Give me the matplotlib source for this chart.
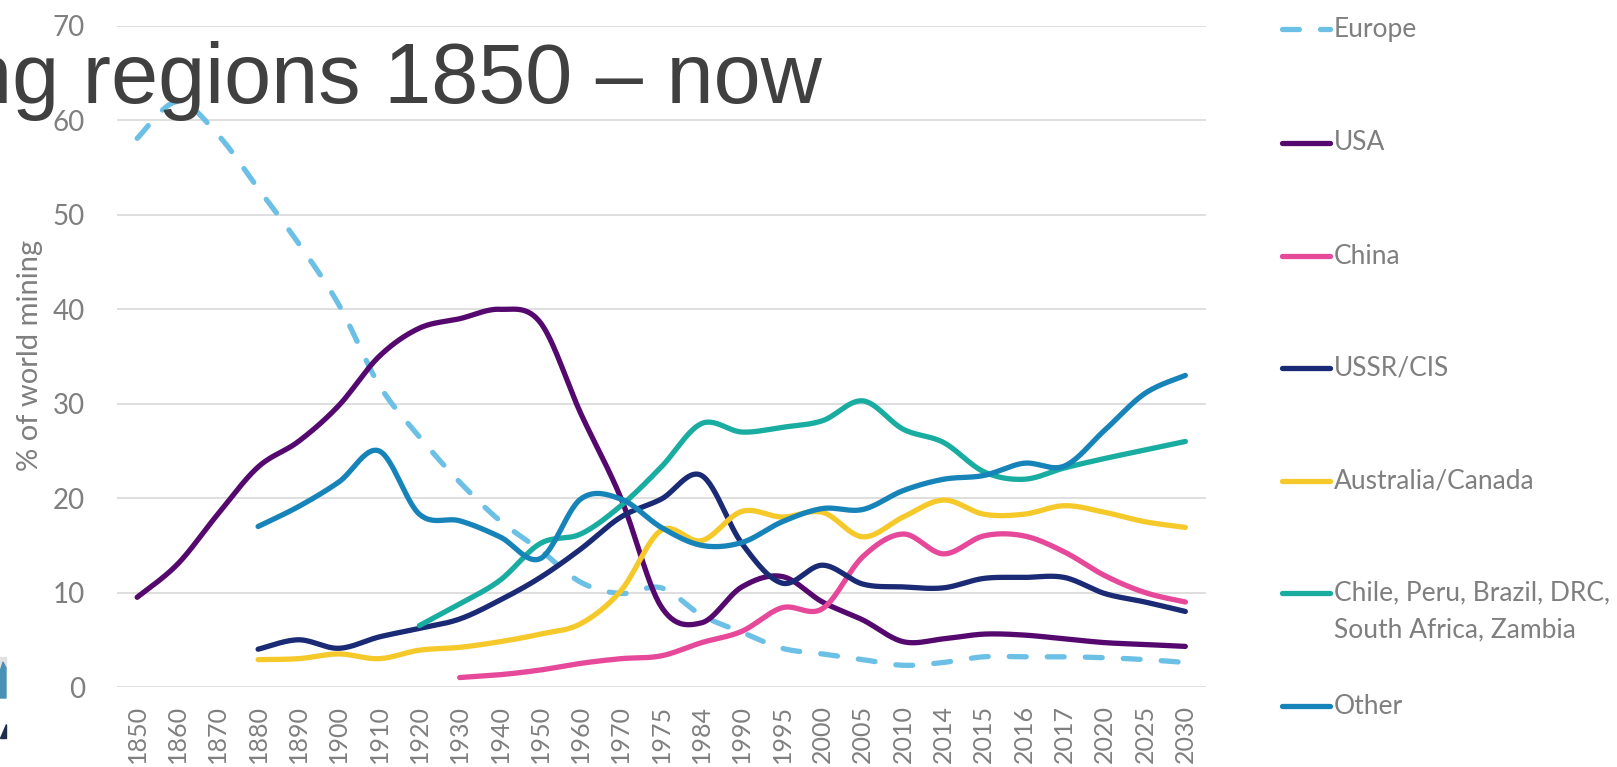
import numpy as np
import matplotlib.pyplot as plt
from matplotlib.lines import Line2D
from matplotlib.patches import Polygon

plt.rcParams['font.family'] = ['Lato', 'DejaVu Sans']

nan = np.nan
years = ["1850", "1860", "1870", "1880", "1890", "1900", "1910", "1920", "1930",
         "1940", "1950", "1960", "1970", "1975", "1984", "1990", "1995", "2000",
         "2005", "2010", "2014", "2015", "2016", "2017", "2020", "2025", "2030"]

europe = [58.1, 62.0, 58.5, 52.8, 47.0, 40.5, 32.0, 26.5, 21.7, 17.6, 14.5, 11.1, 9.9,
          10.5, 7.6, 5.8, 4.1, 3.5, 2.9, 2.3, 2.6, 3.2, 3.2, 3.2, 3.1, 2.9, 2.6]
usa = [9.5, 13.0, 18.3, 23.3, 26.0, 29.8, 35.0, 38.0, 39.0, 40.0, 38.6, 29.0, 20.0,
       8.5, 6.8, 10.6, 11.7, 9.0, 7.1, 4.8, 5.1, 5.6, 5.5, 5.1, 4.7, 4.5, 4.3]
china = [nan] * 8 + [1.0, 1.3, 1.8, 2.5, 3.0, 3.3, 4.7, 5.9, 8.4, 8.3, 13.8, 16.2,
                     14.1, 16.0, 16.0, 14.3, 11.8, 10.0, 9.0]
ussr = [nan] * 3 + [4.0, 5.0, 4.1, 5.3, 6.2, 7.2, 9.2, 11.6, 14.6, 18.0, 19.9, 22.4,
                    15.2, 11.0, 12.9, 10.9, 10.6, 10.5, 11.5, 11.6, 11.6, 9.9, 9.0, 8.0]
aus_can = [nan] * 3 + [2.9, 3.0, 3.5, 3.0, 3.9, 4.2, 4.8, 5.6, 6.7, 10.2, 16.6, 15.5,
                       18.6, 18.0, 18.5, 15.9, 18.0, 19.8, 18.3, 18.3, 19.2, 18.5, 17.5, 16.9]
chile_etc = [nan] * 7 + [6.5, 8.8, 11.3, 15.2, 16.2, 19.2, 23.3, 27.9, 27.0, 27.5, 28.2,
                         30.3, 27.3, 25.9, 22.8, 22.0, 23.2, 24.2, 25.1, 26.0]
other = [nan] * 3 + [17.0, 19.1, 21.7, 25.0, 18.3, 17.6, 15.9, 13.6, 19.9, 19.9, 16.9,
                     15.0, 15.3, 17.5, 18.9, 18.8, 20.8, 22.0, 22.4, 23.7, 23.4, 27.2, 31.1, 33.0]

series = [
    ("Europe", europe, "#6cc0e5"),
    ("USA", usa, "#55096f"),
    ("China", china, "#e6489a"),
    ("USSR/CIS", ussr, "#1b2a74"),
    ("Australia/Canada", aus_can, "#f6c92b"),
    ("Chile, Peru, Brazil, DRC,\nSouth Africa, Zambia", chile_etc, "#19aca0"),
    ("Other", other, "#1683b9"),
]


def smooth(vals, n=30):
    # excel-like smoothed line: bezier through each point
    y = np.asarray(vals, dtype=float)
    x = np.arange(len(y), dtype=float)
    ok = ~np.isnan(y)
    pts = np.column_stack([x[ok], y[ok]])
    m = len(pts)
    t = np.linspace(0, 1, n)[:, None]
    out = []
    for i in range(m - 1):
        p0 = pts[max(i - 1, 0)]
        p1 = pts[i]
        p2 = pts[i + 1]
        p3 = pts[min(i + 2, m - 1)]
        c1 = p1 + (p2 - p0) / 6
        c2 = p2 - (p3 - p1) / 6
        seg = (1 - t) ** 3 * p1 + 3 * (1 - t) ** 2 * t * c1 + 3 * (1 - t) * t ** 2 * c2 + t ** 3 * p2
        out.append(seg if i == 0 else seg[1:])
    out = np.vstack(out)
    return out[:, 0], out[:, 1]


W, H = 1617, 767
fig = plt.figure(figsize=(W / 100, H / 100), dpi=100)
ax = fig.add_axes([117 / W, 1 - 687 / H, (1205.5 - 117) / W, (687 - 26) / H])

lw = 3.8
dash = (0, (3.2, 4.0))
for name, vals, col in series:
    xs, ys = smooth(vals)
    if name == "Europe":
        ax.plot(xs, ys, color=col, lw=lw, linestyle=dash,
                dash_capstyle='round', solid_capstyle='round')
    else:
        ax.plot(xs, ys, color=col, lw=lw, solid_capstyle='round')

ax.set_xlim(-0.5, len(years) - 0.5)
ax.set_ylim(0, 70)
ax.set_xticks(range(len(years)))
ax.set_xticklabels(years, rotation=90)
ax.set_yticks(range(0, 71, 10))
ax.tick_params(length=0, labelsize=20, colors='#7f7f7f')
ax.tick_params(axis='x', labelsize=18, pad=13)
ax.tick_params(axis='y', pad=23)
ax.grid(axis='y', color='#d9d9d9', lw=1.2)
ax.set_axisbelow(True)
for s in ax.spines.values():
    s.set_visible(False)

fig.text(30 / W, 1 - 355 / H, "% of world mining", rotation=90, ha='center', va='center',
         fontsize=21, color='#7f7f7f')

# legend drawn by hand, one entry per row
leg_y = [29, 143, 256, 368, 481, 593, 706]
for (name, vals, col), yy in zip(series, leg_y):
    fy = 1 - yy / H
    if name == "Europe":
        ln = Line2D([1282 / W, 1330 / W], [fy, fy], transform=fig.transFigure, color=col,
                    lw=lw, linestyle=dash, dash_capstyle='round')
    else:
        ln = Line2D([1282 / W, 1330 / W], [fy, fy], transform=fig.transFigure, color=col,
                    lw=lw, solid_capstyle='round')
    fig.add_artist(ln)
    lines = name.split("\n")
    for k, txt in enumerate(lines):
        fig.text(1334 / W, 1 - (yy + 37 * k) / H, txt, ha='left', va='center',
                 fontsize=19, color='#7f7f7f')

# title partly cut off at the left edge
fig.text(822 / W, 1 - 103 / H, "ng regions 1850 \u2013 now", ha='right', va='baseline',
         fontsize=61, color='#404040', family='Liberation Sans')

# bits of a logo at the left edge
fig.add_artist(Polygon([(0, 1 - 657 / H), (6 / W, 1 - 657 / H), (6 / W, 1 - 668 / H), (0, 1 - 668 / H)],
                       closed=True, transform=fig.transFigure, color='#e2e2e2'))
fig.add_artist(Polygon([(0, 1 - 672 / H), (3 / W, 1 - 662 / H), (6 / W, 1 - 668 / H),
                        (6 / W, 1 - 698 / H), (0, 1 - 698 / H)],
                       closed=True, transform=fig.transFigure, color='#4a8fb5'))
fig.add_artist(Polygon([(0, 1 - 738 / H), (6 / W, 1 - 738 / H), (6 / W, 1 - 724 / H)],
                       closed=True, transform=fig.transFigure, color='#1f2d4e'))

fig.savefig("out.png", dpi=100)
